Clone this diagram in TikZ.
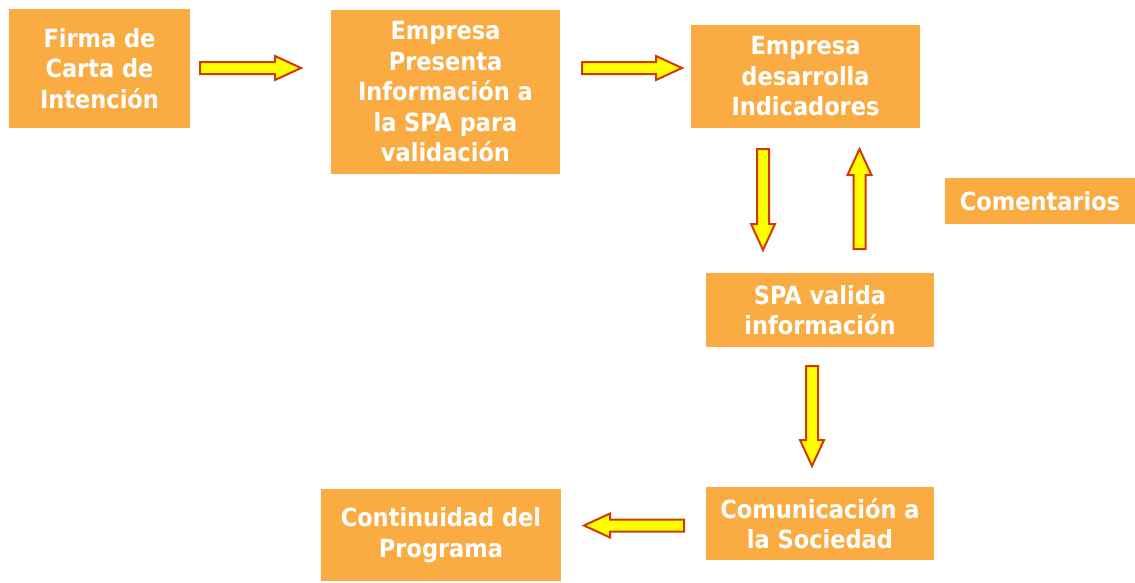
\documentclass[tikz,border=0pt]{standalone}
\usepackage{fontspec}
\setmainfont{DejaVu Sans Condensed}
\usetikzlibrary{calc}

\definecolor{naranja}{RGB}{250,172,67}
\definecolor{amarillo}{RGB}{255,255,0}
\definecolor{rojizo}{RGB}{208,58,8}

\tikzset{
    caja/.style={fill=naranja, text=white, font=\fontsize{25}{30.5}\selectfont\bfseries,
        align=center, inner sep=0pt},
    flecha/.style={fill=amarillo, draw=rojizo, line width=2pt, line join=miter},
}

% block arrow from #1 to #2 (tip at #2)
\newcommand{\bloque}[2]{%
    \coordinate (hb) at ($(#2)!26pt!(#1)$);
    \draw[flecha] ($(#1)!6pt!90:(#2)$) -- ($(hb)!6pt!90:(#2)$) -- ($(hb)!12pt!90:(#2)$)
        -- (#2) -- ($(hb)!12pt!-90:(#2)$) -- ($(hb)!6pt!-90:(#2)$) -- ($(#1)!6pt!-90:(#2)$) -- cycle;
}

\begin{document}
\begin{tikzpicture}[x=1pt, y=-1pt]
    \useasboundingbox (0,0) rectangle (1135,582);

    \node[caja, minimum width=181, minimum height=119] (firma) at (99.5,68.5) {Firma de\\Carta de\\Intención};
    \node[caja, minimum width=229, minimum height=164] (presenta) at (445.5,92) {Empresa\\Presenta\\Información a\\la SPA para\\validación};
    \node[caja, minimum width=229, minimum height=103] (desarrolla) at (805.5,76.5) {Empresa\\desarrolla\\Indicadores};
    \node[caja, minimum width=190, minimum height=46] (comentarios) at (1040,201) {Comentarios};
    \node[caja, minimum width=228, minimum height=74] (valida) at (820,310) {SPA valida\\información};
    \node[caja, minimum width=228, minimum height=73] (comunica) at (820,523.5) {Comunicación a\\la Sociedad};
    \node[caja, minimum width=240, minimum height=92] (continuidad) at (441,535) {Continuidad del\\Programa};

    % arrow ends
    \coordinate (a1) at (200,68);   \coordinate (b1) at (301,68);
    \coordinate (a2) at (582,68);   \coordinate (b2) at (682,68);
    \coordinate (a3) at (763,149);  \coordinate (b3) at (763,250);
    \coordinate (a4) at (859.5,249); \coordinate (b4) at (859.5,149);
    \coordinate (a5) at (812,366);  \coordinate (b5) at (812,466);
    \coordinate (a6) at (684,525.5); \coordinate (b6) at (584,525.5);

    \bloque{a1}{b1}
    \bloque{a2}{b2}
    \bloque{a3}{b3}
    \bloque{a4}{b4}
    \bloque{a5}{b5}
    \bloque{a6}{b6}
\end{tikzpicture}
\end{document}
